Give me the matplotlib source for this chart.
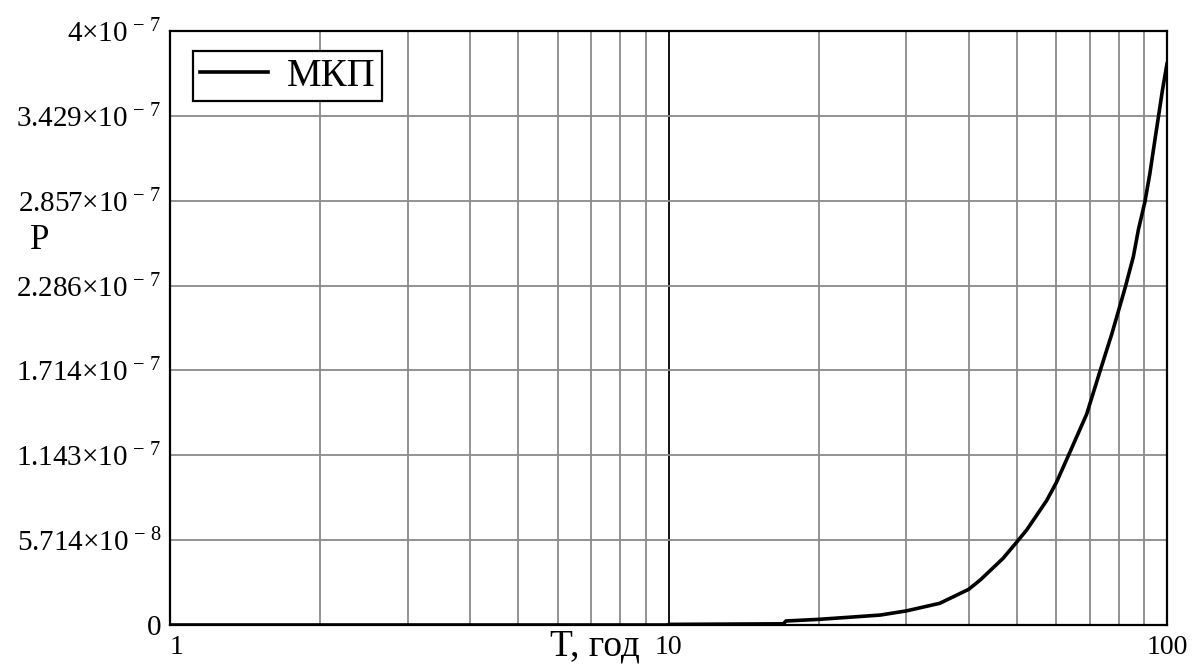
import numpy as np
import matplotlib
matplotlib.use("Agg")
import matplotlib.pyplot as plt
from matplotlib.ticker import FixedLocator, NullFormatter

plt.rcParams['font.family'] = ['Liberation Serif', 'DejaVu Serif']
plt.rcParams['mathtext.fontset'] = 'custom'
plt.rcParams['mathtext.rm'] = 'Liberation Serif'
plt.rcParams['mathtext.it'] = 'Liberation Serif:italic'

# Data (P in units of 1e-9)
T = [1, 2, 5, 9.99, 10, 17, 17.2, 20, 23, 26.6, 30, 35, 40, 42.2, 44.3,
     46.9, 50, 52.3, 54.8, 57.4, 60, 63.4, 69, 73.4, 77.5, 82.4, 85.6,
     87.6, 90.3, 92.4, 94.6, 96.1, 97.9, 100]
P_e9 = [0, 0, 0, 0, 0.4, 0.8, 2.7, 3.8, 5.2, 6.7, 9.5, 14.6, 24, 30.3, 37,
        44.9, 56, 64, 74, 84, 96, 114, 142, 171, 196, 227, 248,
        266, 285, 304, 327, 342, 360, 378]
P = [v * 1e-9 for v in P_e9]

series_label = "МКП"
x_label = "T, год"
y_label = "P"
x_major = [1, 10, 100]
x_major_labels = ["1", "10", "100"]
x_minor = [2, 3, 4, 5, 6, 7, 8, 9, 20, 30, 40, 50, 60, 70, 80, 90]
y_ticks = [i * 4e-7 / 7 for i in range(8)]
y_tick_labels = [r"$0$", r"$5.714{\times}10^{\,-\,8}$", r"$1.143{\times}10^{\,-\,7}$",
                 r"$1.714{\times}10^{\,-\,7}$", r"$2.286{\times}10^{\,-\,7}$",
                 r"$2.857{\times}10^{\,-\,7}$", r"$3.429{\times}10^{\,-\,7}$",
                 r"$4{\times}10^{\,-\,7}$"]

fig = plt.figure(figsize=(12.04, 6.67), dpi=100)
ax = fig.add_axes([170/1204, 1 - 625/667, 997/1204, 594/667])

ax.plot(T, P, color='black', lw=2.6, label=series_label, zorder=5,
        solid_joinstyle='round')

ax.set_xscale('log')
ax.set_xlim(1, 100)
ax.set_ylim(0, 4e-7)

ax.xaxis.set_major_locator(FixedLocator(x_major))
ax.xaxis.set_minor_locator(FixedLocator(x_minor))
ax.xaxis.set_minor_formatter(NullFormatter())
ax.set_xticks(x_major)
ax.set_xticklabels(x_major_labels)
ax.set_yticks(y_ticks)
ax.set_yticklabels(y_tick_labels)

ax.tick_params(which='both', length=0)
ax.tick_params(axis='x', labelsize=20, pad=7)
ax.tick_params(axis='y', labelsize=21, pad=6)
for lbl in ax.get_xticklabels():
    if lbl.get_text() == "1":
        lbl.set_horizontalalignment('left')

ax.xaxis.grid(True, which='minor', color='#8a8a8a', lw=1.3)
ax.xaxis.grid(True, which='major', color='black', lw=1.3)
ax.yaxis.grid(True, which='major', color='#8a8a8a', lw=1.3)
ax.set_axisbelow(True)

for s in ax.spines.values():
    s.set_color('black')
    s.set_linewidth(1.6)

fig.text(40/1204, 1 - 240/667, y_label, fontsize=25, ha='center', va='center')
fig.text(595/1204, 1 - 646/667, x_label, fontsize=27, ha='center', va='center')

leg = ax.legend(loc='upper left', bbox_to_anchor=(23/997, 1 - 20/594),
                fontsize=28, frameon=True, fancybox=False, borderaxespad=0,
                handlelength=1.75, handletextpad=0.5, borderpad=0.17,
                handleheight=0.7)
leg.get_frame().set_edgecolor('black')
leg.get_frame().set_linewidth(1.6)
leg.get_frame().set_alpha(1)

fig.savefig("out.png", dpi=100)
